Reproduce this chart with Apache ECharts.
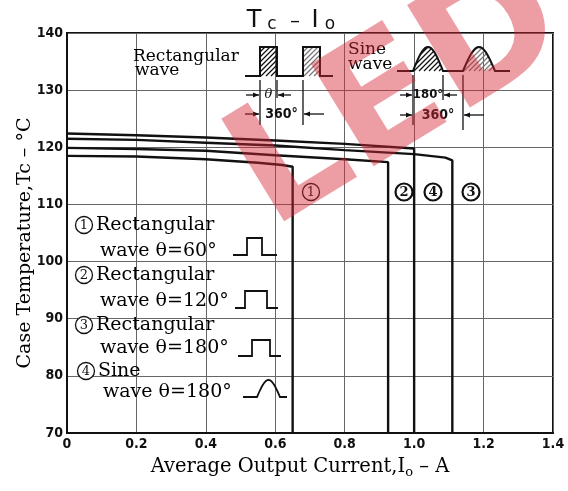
<!DOCTYPE html>
<html><head><meta charset="utf-8">
<script src="https://cdn.jsdelivr.net/npm/echarts@6/dist/echarts.min.js"></script>
<style>html,body{margin:0;padding:0;background:#fff}#c{width:568px;height:491px}</style>
</head><body><div id="c"></div>
<script>
// ---- data ----
const xTickValues = [0, 0.2, 0.4, 0.6, 0.8, 1.0, 1.2, 1.4];
const xTickLabels = ['0', '0.2', '0.4', '0.6', '0.8', '1.0', '1.2', '1.4'];
const yTickValues = [70, 80, 90, 100, 110, 120, 130, 140];
const yTickLabels = ['70', '80', '90', '100', '110', '120', '130', '140'];
const seriesNames = ['①', '②', '③', '④'];
const curve1 = [[0,118.5],[0.2,118.4],[0.4,117.9],[0.55,117.3],[0.62,116.9],[0.65,116.6],[0.65,70]];
const curve2 = [[0,119.9],[0.2,119.7],[0.4,119.4],[0.6,118.6],[0.8,117.9],[0.925,117.4],[0.925,70]];
const curve3 = [[0,121.5],[0.2,121.3],[0.4,120.8],[0.6,120.3],[0.8,119.5],[1.0,118.8],[1.09,118.2],[1.11,117.7],[1.11,70]];
const curve4 = [[0,122.4],[0.2,122.1],[0.4,121.7],[0.6,121.2],[0.8,120.6],[1.0,119.8],[1.0,70]];
const curves = [curve1, curve2, curve3, curve4];

// ---- helpers ----
const SERIF = "'DejaVu Serif','Noto Sans CJK JP',serif";
const SANS = "'DejaVu Sans',sans-serif";
const BOLDC = "'DejaVu Sans Condensed','DejaVu Sans',sans-serif";
const INK = '#111';
const CEN = {align:'center', textAlign:'center'};
function txt(x, y, s, size, opt) {
  return {type:'text', x:x, y:y, silent:true, z:50,
    style:Object.assign({text:s, fontSize:size, fontFamily:SERIF, fill:INK,
      align:'left', textAlign:'left', verticalAlign:'middle', textVerticalAlign:'middle'}, opt||{})};
}
function pl(points, w, color) {
  return {type:'polyline', silent:true, z:50, shape:{points:points},
    style:{stroke:color||INK, lineWidth:w||1.5, fill:null}};
}
function circNum(cx, cy, d, bold) {
  return [{type:'circle', silent:true, z:50, shape:{cx:cx, cy:cy, r:8.5},
      style:{stroke:INK, lineWidth:bold ? 2.2 : 1.3, fill:'#fff'}},
    txt(cx, cy + 0.5, d, 13, Object.assign({fontWeight:bold ? 'bold' : 'normal'}, CEN))];
}
function arrow(x1, y, x2) {
  const d = x2 > x1 ? 1 : -1;
  return [pl([[x1,y],[x2,y]], 1.3),
    {type:'polygon', silent:true, z:50, shape:{points:[[x2,y],[x2-6*d,y-2.5],[x2-6*d,y+2.5]]}, style:{fill:INK}}];
}
function hatchRect(x1, y1, x2, y2, step, color) {
  const out = [];
  for (let k = x1 + y1 + step; k < x2 + y2; k += step) {
    const xa = Math.max(x1, k - y2), xb = Math.min(x2, k - y1);
    if (xb > xa) out.push(pl([[xa, k - xa], [xb, k - xb]], 1.2, color));
  }
  return out;
}
function sinePts(x0, w, base, h) {
  const p = [];
  for (let i = 0; i <= 20; i++) { const t = i / 20; p.push([x0 + t * w, base - h * Math.sin(Math.PI * t)]); }
  return p;
}
function hatchSine(x0, w, base, h, step, color) {
  const out = [];
  for (let k = x0 + base - h + step; k < x0 + w + base; k += step) {
    let a = null, b = null;
    for (let x = x0; x <= x0 + w; x += 0.25) {
      const y = k - x, top = base - h * Math.sin(Math.PI * (x - x0) / w);
      if (y >= top && y <= base) { if (a === null) a = x; b = x; }
    }
    if (a !== null && b - a > 0.5) out.push(pl([[a, k - a], [b, k - b]], 1.2, color));
  }
  return out;
}

// ---- graphic annotations ----
const g = [];
// title
g.push(txt(254, 21, 'T', 24, Object.assign({fontFamily:SANS}, CEN)));
g.push(txt(272, 25, 'c', 17, Object.assign({fontFamily:SANS}, CEN)));
g.push(txt(295, 22, '–', 20, Object.assign({fontFamily:SANS}, CEN)));
g.push(txt(315, 21, 'I', 24, Object.assign({fontFamily:SANS}, CEN)));
g.push(txt(330, 25, 'o', 17, Object.assign({fontFamily:SANS}, CEN)));

// rectangular wave illustration
g.push(txt(133, 57, 'Rectangular', 17, {fill:'#000'}));
g.push(txt(135, 71, 'wave', 17, {fill:'#000'}));
g.push(...hatchRect(260, 47, 277, 76, 5, INK));
g.push(...hatchRect(303, 47, 320, 76, 5, '#777'));
g.push(pl([[245,76],[260,76],[260,47],[277,47],[277,76],[303,76],[303,47],[320,47],[320,76],[333,76]], 2));
g.push(pl([[260,80],[260,125]], 1.3), pl([[277,80],[277,98]], 1.3), pl([[303,80],[303,125]], 1.3));
g.push(...arrow(246, 95, 259), ...arrow(291, 95, 278));
g.push(txt(268.5, 95, 'θ', 13, Object.assign({fontStyle:'italic'}, CEN)));
g.push(...arrow(245, 114, 259), ...arrow(324, 114, 304));
g.push(txt(281.5, 114, '360°', 14, Object.assign({fontWeight:'bold', fontFamily:BOLDC}, CEN)));

// sine wave illustration
g.push(txt(348, 50, 'Sine', 17, {fill:'#000'}));
g.push(txt(348, 65, 'wave', 17, {fill:'#000'}));
g.push(...hatchSine(413, 30, 71, 24, 5, INK));
g.push(...hatchSine(463, 32, 71, 24, 5, '#777'));
g.push(pl([[397,71],[413,71]].concat(sinePts(413,30,71,24)).concat([[463,71]]).concat(sinePts(463,32,71,24)).concat([[510,71]]), 2));
g.push(pl([[413,75],[413,125]], 1.3), pl([[443,75],[443,100]], 1.3), pl([[463,75],[463,130]], 1.3));
g.push(...arrow(400, 95, 412), ...arrow(457, 95, 444));
g.push(txt(428, 95, '180°', 13, Object.assign({fontWeight:'bold', fontFamily:BOLDC}, CEN)));
g.push(...arrow(400, 115, 412), ...arrow(484, 115, 464));
g.push(txt(438, 115, '360°', 14, Object.assign({fontWeight:'bold', fontFamily:BOLDC}, CEN)));

// curve labels
g.push(...circNum(311, 192, '1', false));
g.push(...circNum(404, 192, '2', true));
g.push(...circNum(433, 192, '4', true));
g.push(...circNum(471, 192, '3', true));

// legend block
const LS = 19;
g.push(...circNum(84, 225, '1', false));
g.push(txt(96, 225, 'Rectangular', LS, {fill:'#000'}));
g.push(txt(100, 251, 'wave θ=60°', LS, {fill:'#000'}));
g.push(pl([[233,255],[247,255],[247,238],[262,238],[262,255],[277,255]], 1.8));
g.push(...circNum(84, 275, '2', false));
g.push(txt(96, 275, 'Rectangular', LS, {fill:'#000'}));
g.push(txt(100, 301, 'wave θ=120°', LS, {fill:'#000'}));
g.push(pl([[235,308],[245,308],[245,291],[267,291],[267,308],[278,308]], 1.8));
g.push(...circNum(84, 325, '3', false));
g.push(txt(96, 325, 'Rectangular', LS, {fill:'#000'}));
g.push(txt(100, 348, 'wave θ=180°', LS, {fill:'#000'}));
g.push(pl([[238,356],[252,356],[252,340],[270,340],[270,356],[281,356]], 1.8));
g.push(...circNum(86, 371, '4', false));
g.push(txt(98, 371, 'Sine', LS, {fill:'#000'}));
g.push(txt(103, 392, 'wave θ=180°', LS, {fill:'#000'}));
g.push(pl([[243,397],[257,397]].concat(sinePts(257,23,397,17)).concat([[287,397]]), 1.8));

// axis titles
const yt = txt(25, 243, 'Case Temperature,Tc – °C', 19, Object.assign({fill:'#000'}, CEN));
yt.rotation = Math.PI / 2;
g.push(yt);
g.push({type:'text', x:300, y:467, silent:true, z:50,
  style:{text:'{a|Average Output Current,I}{s|o}{a| – A}', align:'center', textAlign:'center',
    verticalAlign:'middle', textVerticalAlign:'middle', fill:'#000',
    rich:{a:{fontSize:19.5, fontFamily:SERIF, fill:'#000', lineHeight:24},
          s:{fontSize:13, fontFamily:SERIF, fill:'#000', lineHeight:24, verticalAlign:'bottom', padding:[11,0,0,0]}}}});

// watermark (pink logo over the top right)
g.push({type:'text', x:400, y:100, rotation:0.55, silent:true, z:100,
  style:{text:'LED', fontSize:165, fontWeight:'bold', fontFamily:SANS, fill:'rgba(215,40,55,0.45)',
    align:'center', textAlign:'center', verticalAlign:'middle', textVerticalAlign:'middle'}});

// ---- chart ----
const chart = echarts.init(document.getElementById('c'), null, {renderer:'canvas'});
const tickFont = {fontSize:14, fontWeight:'bold', color:INK, fontFamily:"'DejaVu Sans Condensed','Liberation Sans Narrow','DejaVu Sans',sans-serif"};
chart.setOption({
  animation:false,
  backgroundColor:'#fff',
  grid:{left:67, top:33, width:486, height:400, show:true, borderColor:INK, borderWidth:2, backgroundColor:'transparent'},
  xAxis:{type:'value', min:0, max:1.4, interval:0.2,
    axisLine:{show:true, lineStyle:{color:INK, width:2}},
    axisTick:{show:false},
    splitLine:{show:true, lineStyle:{color:'#666', width:1}},
    axisLabel:Object.assign({margin:4, formatter:function(v){const i=xTickValues.findIndex(t=>Math.abs(t-v)<1e-6);return i>=0?xTickLabels[i]:'';}}, tickFont)},
  yAxis:{type:'value', min:70, max:140, interval:10,
    axisLine:{show:true, lineStyle:{color:INK, width:2}},
    axisTick:{show:false},
    splitLine:{show:true, lineStyle:{color:'#666', width:1}},
    axisLabel:Object.assign({margin:4, formatter:function(v){const i=yTickValues.indexOf(v);return i>=0?yTickLabels[i]:'';}}, tickFont)},
  series:curves.map(function(c, i){
    return {name:seriesNames[i], type:'line', data:c, symbol:'none', showSymbol:false,
      lineStyle:{color:INK, width:2.4}, z:10, silent:true};
  }),
  graphic:g
});
</script></body></html>
